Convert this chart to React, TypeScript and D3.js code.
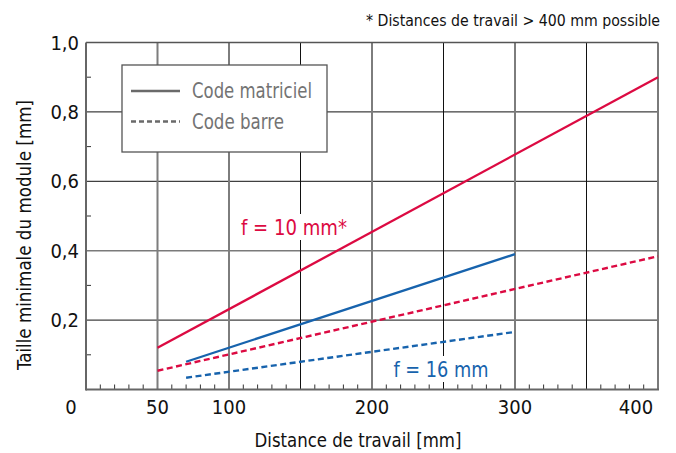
import React from "react";
import * as d3 from "d3";

const xTicksMajor = [50, 100, 150, 200, 250, 300, 350];
const xTickLabels = [0, 50, 100, 200, 300, 400];
const yTicksMajor = [0.2, 0.4, 0.6, 0.8];
const yTickLabels = ["0,2", "0,4", "0,6", "0,8", "1,0"];
const yTickLabelValues = [0.2, 0.4, 0.6, 0.8, 1.0];

// series: [distance, module size]
const f10Matrix: [number, number][] = [[50, 0.12], [400, 0.9]];
const f10Bar: [number, number][] = [[50, 0.054], [400, 0.384]];
const f16Matrix: [number, number][] = [[70, 0.08], [300, 0.39]];
const f16Bar: [number, number][] = [[70, 0.034], [300, 0.166]];

const legendLabels = ["Code matriciel", "Code barre"];

const RED = "#dc0a42";
const BLUE = "#1763ad";
const FONT = "'DejaVu Sans Condensed', 'DejaVu Sans', sans-serif";

export default function App() {
  const W = 676, H = 453;
  const x = d3.scaleLinear().domain([0, 400]).range([86, 658]);
  const y = d3.scaleLinear().domain([0, 1]).range([389.5, 42.5]);
  const line = d3.line<[number, number]>().x(d => x(d[0])).y(d => y(d[1]));
  const minorX = d3.range(10, 400, 10);
  const minorY = d3.range(0.1, 1, 0.2);
  const grayV = new Set([50, 100, 200, 300]);
  const grayH = new Set([0.4]);

  return (
    <svg width={W} height={H} style={{ position: "absolute", left: 0, top: 0, background: "#fff" }} fontFamily={FONT} fontStretch="condensed">
      <rect x={0} y={0} width={W} height={H} fill="#fff" />
      {/* horizontal gridlines */}
      {yTicksMajor.map(v => (
        <line key={"h" + v} x1={x(0)} x2={x(400)} y1={y(v)} y2={y(v)}
          stroke={grayH.has(v) ? "#7a7a7a" : "#111"} strokeWidth={grayH.has(v) ? 1.6 : 1} />
      ))}
      {/* vertical gridlines */}
      {xTicksMajor.map(v => (
        <line key={"v" + v} x1={x(v)} x2={x(v)} y1={y(0)} y2={y(1)}
          stroke={grayV.has(v) ? "#7d7d7d" : "#111"} strokeWidth={grayV.has(v) ? 2 : 1} />
      ))}
      {/* minor ticks */}
      {minorX.filter(v => !xTicksMajor.includes(v)).map(v => (
        <line key={"mx" + v} x1={x(v)} x2={x(v)} y1={y(0)} y2={y(0) - 5} stroke="#333" strokeWidth={1} />
      ))}
      {minorY.map(v => (
        <line key={"my" + v} x1={x(0)} x2={x(0) + 5} y1={y(v)} y2={y(v)} stroke="#333" strokeWidth={1} />
      ))}
      {/* frame */}
      <line x1={x(0)} x2={x(400)} y1={y(1)} y2={y(1)} stroke="#555" strokeWidth={1.5} />
      <line x1={x(400)} x2={x(400)} y1={y(1)} y2={y(0)} stroke="#7a7a7a" strokeWidth={2} />
      <line x1={x(0)} x2={x(0)} y1={y(1)} y2={y(0) + 1} stroke="#666" strokeWidth={2} />
      <line x1={x(0)} x2={x(400) + 1} y1={y(0)} y2={y(0)} stroke="#666" strokeWidth={2} />

      {/* legend */}
      <rect x={122} y={65} width={205} height={87} fill="#fff" stroke="#555" strokeWidth={1.3} />
      <line x1={131} x2={180} y1={91} y2={91} stroke="#6a6a6a" strokeWidth={2.6} />
      <line x1={131} x2={180} y1={121.5} y2={121.5} stroke="#6a6a6a" strokeWidth={2.6} strokeDasharray="5,3" />
      <text x={192} y={98} fontSize={21} fill="#737373" textLength={120} lengthAdjust="spacingAndGlyphs">{legendLabels[0]}</text>
      <text x={192} y={129} fontSize={21} fill="#737373" textLength={92} lengthAdjust="spacingAndGlyphs">{legendLabels[1]}</text>

      {/* series */}
      <path d={line(f10Matrix) || ""} fill="none" stroke={RED} strokeWidth={2.3} />
      <path d={line(f10Bar) || ""} fill="none" stroke={RED} strokeWidth={2.4} strokeDasharray="6,3.5" />
      <path d={line(f16Matrix) || ""} fill="none" stroke={BLUE} strokeWidth={2.3} />
      <path d={line(f16Bar) || ""} fill="none" stroke={BLUE} strokeWidth={2.4} strokeDasharray="6,3.5" />

      {/* annotations */}
      <rect x={238} y={214} width={112} height={26} fill="#fff" />
      <text x={294} y={235} fontSize={22} fill={RED} textAnchor="middle" textLength={106} lengthAdjust="spacingAndGlyphs">f = 10 mm*</text>
      <rect x={390} y={356} width={102} height={26} fill="#fff" />
      <text x={441} y={377} fontSize={22} fill={BLUE} textAnchor="middle" textLength={95} lengthAdjust="spacingAndGlyphs">f = 16 mm</text>

      {/* y tick labels */}
      {yTickLabelValues.map((v, i) => (
        <text key={"yl" + v} x={79} y={y(v) + 7} fontSize={20} textAnchor="end" fill="#111">{yTickLabels[i]}</text>
      ))}
      {/* x tick labels */}
      {xTickLabels.map(v => {
        const px = v === 0 ? x(0) - 15 : v === 400 ? x(400) - 22 : x(v);
        return <text key={"xl" + v} x={px} y={414} fontSize={20} textAnchor="middle" fill="#111">{v}</text>;
      })}

      {/* axis titles */}
      <text x={358} y={447} fontSize={19} textAnchor="middle" fill="#111" textLength={207} lengthAdjust="spacingAndGlyphs">Distance de travail [mm]</text>
      <text transform={`translate(31,235) rotate(-90)`} fontSize={19} textAnchor="middle" fill="#111" textLength={270} lengthAdjust="spacingAndGlyphs">Taille minimale du module [mm]</text>

      {/* note */}
      <text x={660} y={26} fontSize={16} textAnchor="end" fill="#111" textLength={294} lengthAdjust="spacingAndGlyphs">* Distances de travail &gt; 400 mm possible</text>
    </svg>
  );
}
